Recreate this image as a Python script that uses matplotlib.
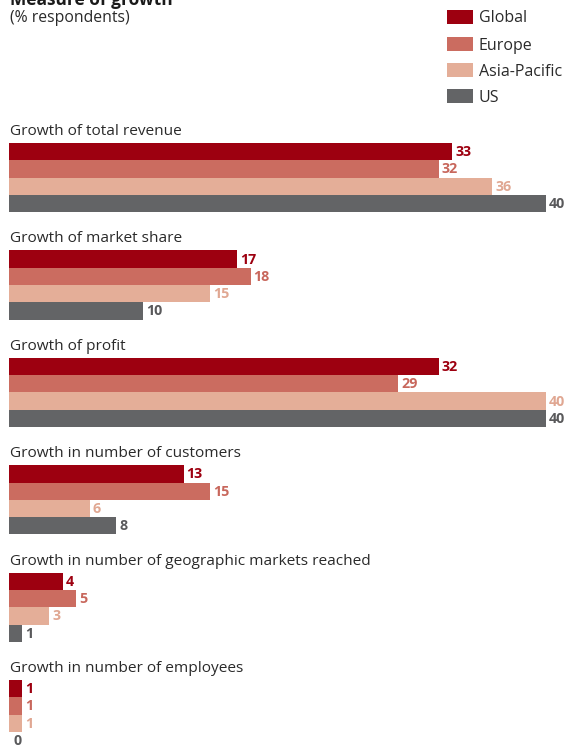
import matplotlib
matplotlib.use("Agg")
import matplotlib.pyplot as plt

categories = [
    "Growth of total revenue",
    "Growth of market share",
    "Growth of profit",
    "Growth in number of customers",
    "Growth in number of geographic markets reached",
    "Growth in number of employees",
]
regions = ["Global", "Europe", "Asia-Pacific", "US"]
values = {
    "Global":       [33, 17, 32, 13, 4, 1],
    "Europe":       [32, 18, 29, 15, 5, 1],
    "Asia-Pacific": [36, 15, 40, 6, 3, 1],
    "US":           [40, 10, 40, 8, 1, 0],
}
bar_colors = {
    "Global": "#9d0010",
    "Europe": "#cb6c60",
    "Asia-Pacific": "#e4ae98",
    "US": "#636466",
}
text_colors = {
    "Global": "#9d0010",
    "Europe": "#c8675c",
    "Asia-Pacific": "#e0a792",
    "US": "#59595b",
}

FONT = ["Open Sans", "DejaVu Sans"]
plt.rcParams["font.family"] = FONT

W, H = 566, 750
fig = plt.figure(figsize=(W / 100, H / 100), dpi=100)

# Bars live in an axes whose x runs 0..40 between px 9 and px 546; y in pixels from top.
x0, x1 = 9, 546
ax = fig.add_axes([x0 / W, 0, (x1 - x0) / W, 1])
ax.set_xlim(0, 40)
ax.set_ylim(H, 0)
ax.axis("off")

px = 40 / (x1 - x0)  # value units per pixel
group_top = 143.0
group_step = 107.4
bar_h = 17.3

for g, cat in enumerate(categories):
    top = group_top + g * group_step
    ax.text(0.08, top - 4, cat, fontsize=11.1, color="#2a2a2a",
            va="bottom", ha="left")
    for i, reg in enumerate(regions):
        v = values[reg][g]
        y = top + i * bar_h
        ax.barh(y, v, height=bar_h, align="edge", color=bar_colors[reg],
                linewidth=0)
        ax.text(v + 3 * px + (2 * px if v == 0 else 0), y + bar_h / 2 + 0.5,
                str(v), fontsize=10.3, fontweight="bold",
                color=text_colors[reg], va="center", ha="left")

# Title block
fig.text(10 / W, 1 - 0 / H, "Measure of growth", fontsize=12.5,
         fontweight="bold", color="#1a1a1a", va="center", ha="left")
fig.text(10 / W, 1 - 18 / H, "(% respondents)", fontsize=11.3,
         color="#2a2a2a", va="center", ha="left")

# Legend
leg_y = [17, 44, 70, 96]
for reg, yy in zip(regions, leg_y):
    fig.patches.append(plt.Rectangle((447 / W, 1 - (yy + 7) / H), 26 / W, 14 / H,
                                     transform=fig.transFigure,
                                     color=bar_colors[reg], linewidth=0))
    fig.text(479 / W, 1 - (yy + 1.5) / H, reg, fontsize=11.5, color="#2a2a2a",
             va="center", ha="left")

fig.savefig("out.png", dpi=100, facecolor="white")
